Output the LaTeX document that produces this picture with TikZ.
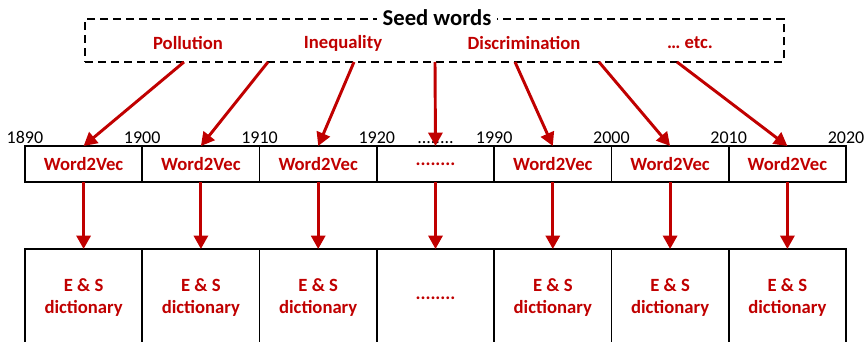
\documentclass[tikz,border=0pt]{standalone}
\usepackage{fontspec}
\setmainfont{Carlito}
\usetikzlibrary{arrows.meta,positioning}
\definecolor{darkred}{RGB}{192,0,0}

\begin{document}
\begin{tikzpicture}[x=0.75pt, y=-0.75pt,
  cell/.style={draw, line width=1.2pt, minimum width=88pt, minimum height=27pt,
               inner sep=0pt, outer sep=0pt, text=darkred,
               font=\bfseries\fontsize{14}{16.5}\selectfont},
  dict/.style={cell, minimum height=73.5pt, align=center},
  seed/.style={text=darkred, font=\bfseries\fontsize{14}{16.5}\selectfont},
  year/.style={anchor=base, inner sep=0pt, font=\fontsize{13.5}{16}\selectfont},
  redarrow/.style={darkred, line width=2.2pt, -{Triangle[length=10pt,width=10.5pt]}}]

\useasboundingbox (0,0) rectangle (864,342);
\clip (0,0) rectangle (864,342);

% seed words
\node[draw, dash pattern=on 6pt off 3.75pt, line width=1.1pt, minimum width=524pt,
      minimum height=32pt, inner sep=0pt] (seeds) at (434.5,40.5) {};
\node[fill=white, inner sep=4pt, font=\bfseries\fontsize{17}{20}\selectfont] (title) at (437,18) {Seed words};

\node[seed] (pollution)  at (188,43) {Pollution};
\node[seed] (inequality) at (343,43) {Inequality};
\node[seed] (discrim)    at (524,43) {Discrimination};
\node[seed] (etc)        at (690,43) {… etc.};

% Word2Vec row
\foreach \i in {0,1,2,4,5,6}
  \node[cell] (w\i) at (83.6+117.3*\i,164) {Word2Vec};
\node[cell] (w3) at (83.6+117.3*3,164) {........};

% dictionaries
\foreach \i in {0,1,2,4,5,6}
  \node[dict] (d\i) at (83.6+117.3*\i,298) {E \& S\\dictionary};
\node[dict] (d3) at (83.6+117.3*3,298) {........};

% years
\foreach \k/\yr in {0/1890,1/1900,2/1910,3/1920,4/1990,5/2000,6/2010}
  \node[year] (y\k) at ([yshift=2pt]w\k.north west) {\yr};
\node[year] (y7)    at ([yshift=2pt]w6.north east) {2020};
\node[year] (ydots) at ([yshift=2pt]w3.north) {........};

% arrows
\foreach \i/\x in {0/184,1/268,2/354,3/435,4/515,5/599,6/677} {
  \coordinate (s\i) at (\x,62);
  \draw[redarrow] (s\i) -- (w\i.north);
  \draw[redarrow] (w\i.south) -- (d\i.north);
}
\end{tikzpicture}
\end{document}
